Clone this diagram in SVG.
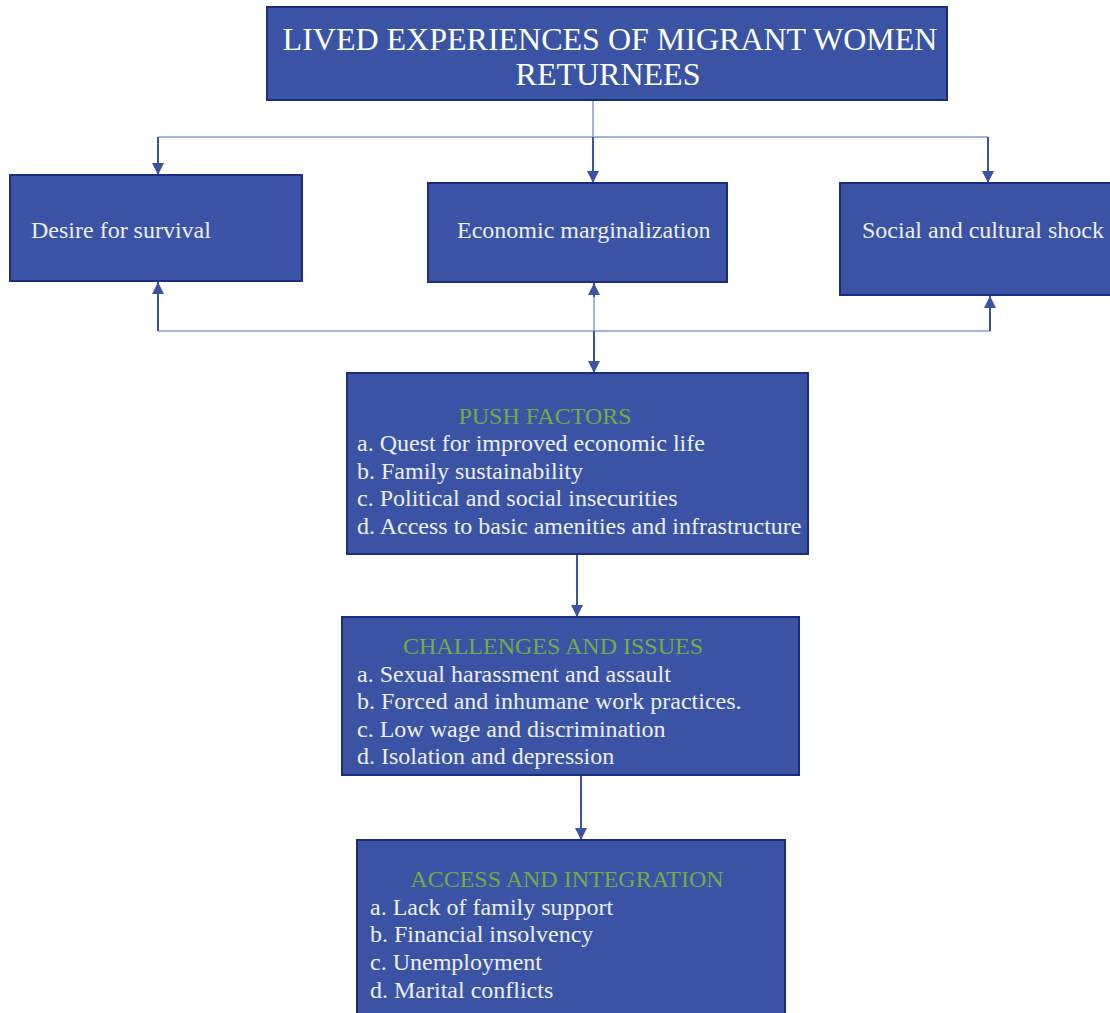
<svg xmlns="http://www.w3.org/2000/svg" width="1110" height="1013" viewBox="0 0 1110 1013">
<style>
.box{fill:#3A53A4;stroke:#1C2D7E;stroke-width:2}
.t{font-family:"Liberation Serif","Times New Roman",serif;fill:#EEEEF4;font-size:24px}
.title{font-family:"Liberation Serif","Times New Roman",serif;fill:#FFFFFF;font-size:32px;text-anchor:middle}
.h{font-family:"Liberation Serif","Times New Roman",serif;fill:#70AD47;font-size:24px;text-anchor:middle}
.thin{stroke:#8C9BD0;stroke-width:1.5;fill:none}
.arr{stroke:#3A53A4;stroke-width:2;fill:none}
</style>
<defs>
<marker id="ah" viewBox="0 0 10 10" refX="10" refY="5" markerWidth="6" markerHeight="6" orient="auto" markerUnits="strokeWidth">
<path d="M0,0 L10,5 L0,10 z" fill="#3A53A4"/>
</marker>
</defs>
<g id="connectors">
<line class="thin" x1="593" y1="100" x2="593" y2="137"/>
<line class="thin" x1="158" y1="137" x2="988" y2="137"/>
<line class="arr" x1="158" y1="137" x2="158" y2="175" marker-end="url(#ah)"/>
<line class="arr" x1="593" y1="137" x2="593" y2="183" marker-end="url(#ah)"/>
<line class="arr" x1="988" y1="137" x2="988" y2="183" marker-end="url(#ah)"/>
<line class="thin" x1="158" y1="331" x2="990" y2="331"/>
<line class="arr" x1="158" y1="331" x2="158" y2="282" marker-end="url(#ah)"/>
<line class="arr" x1="990" y1="331" x2="990" y2="296" marker-end="url(#ah)"/>
<line class="thin" x1="594" y1="331" x2="594" y2="297"/>
<line class="arr" x1="594" y1="297" x2="594" y2="283" marker-end="url(#ah)"/>
<line class="arr" x1="594" y1="331" x2="594" y2="373" marker-end="url(#ah)"/>
<line class="arr" x1="577" y1="555" x2="577" y2="617" marker-end="url(#ah)"/>
<line class="arr" x1="581" y1="776" x2="581" y2="840" marker-end="url(#ah)"/>
</g>
<g id="title">
<rect class="box" x="267" y="7" width="680" height="93"/>
<text class="title" x="610" y="50">LIVED EXPERIENCES OF MIGRANT WOMEN</text>
<text class="title" x="608" y="85">RETURNEES</text>
</g>
<g id="survival">
<rect class="box" x="10" y="175" width="292" height="106"/>
<text class="t" x="31" y="238">Desire for survival</text>
</g>
<g id="economic">
<rect class="box" x="428" y="183" width="299" height="99"/>
<text class="t" x="457" y="238">Economic marginalization</text>
</g>
<g id="social">
<rect class="box" x="840" y="183" width="272" height="112"/>
<text class="t" x="862" y="238">Social and cultural shock</text>
</g>
<g id="push">
<rect class="box" x="347" y="373" width="461" height="181"/>
<text class="h" x="545" y="424">PUSH FACTORS</text>
<text class="t" x="357" y="451">a. Quest for improved economic life</text>
<text class="t" x="357" y="479">b. Family sustainability</text>
<text class="t" x="357" y="506">c. Political and social insecurities</text>
<text class="t" x="357" y="534">d. Access to basic amenities and infrastructure</text>
</g>
<g id="challenges">
<rect class="box" x="342" y="617" width="457" height="158"/>
<text class="h" x="553" y="654">CHALLENGES AND ISSUES</text>
<text class="t" x="357" y="682">a. Sexual harassment and assault</text>
<text class="t" x="357" y="709">b. Forced and inhumane work practices.</text>
<text class="t" x="357" y="737">c. Low wage and discrimination</text>
<text class="t" x="357" y="764">d. Isolation and depression</text>
</g>
<g id="access">
<rect class="box" x="357" y="840" width="428" height="180"/>
<text class="h" x="567" y="887">ACCESS AND INTEGRATION</text>
<text class="t" x="370" y="915">a. Lack of family support</text>
<text class="t" x="370" y="942">b. Financial insolvency</text>
<text class="t" x="370" y="970">c. Unemployment</text>
<text class="t" x="370" y="998">d. Marital conflicts</text>
</g>
</svg>
